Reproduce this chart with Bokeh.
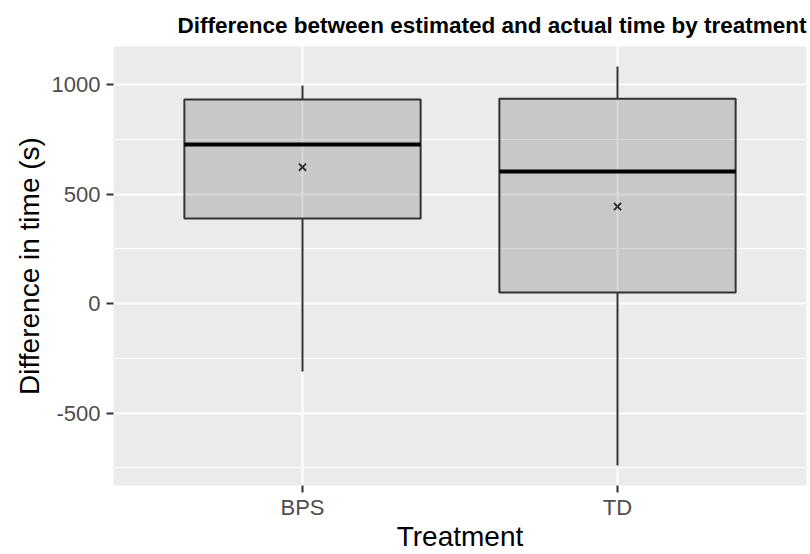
from bokeh.plotting import figure
from bokeh.models import ColumnDataSource, FactorRange, Range1d, FixedTicker
from bokeh.transform import dodge
from bokeh.embed import file_html
from bokeh.resources import INLINE

# ---- data ----
categories = ["BPS", "TD"]
whisker_low = [-310, -740]
q1 = [388, 50]
median = [726, 603]
q3 = [932, 936]
whisker_high = [996, 1083]
mean = [623, 443]

y_ticks = [-500, 0, 500, 1000]
y_tick_labels = ["-500", "0", "500", "1000"]
y_minor = [-750, -250, 250, 750]

title_text = "Difference between estimated and actual time by treatment"
x_title = "Treatment"
y_title = "Difference in time (s)"

src = ColumnDataSource(dict(cat=categories, lo=whisker_low, q1=q1, med=median,
                            q3=q3, hi=whisker_high, mean=mean))

lo_all, hi_all = min(whisker_low), max(whisker_high)
pad = 0.05 * (hi_all - lo_all)

FONT = "Liberation Sans"
BOXW = 0.75

p = figure(width=810, height=554, output_backend="svg", toolbar_location=None,
           x_range=FactorRange(factors=categories, range_padding=0.1,
                               range_padding_units="absolute"),
           y_range=Range1d(lo_all - pad, hi_all + pad),
           min_border_left=113, min_border_right=4, min_border_top=46,
           min_border_bottom=68)

p.background_fill_color = "#EBEBEB"
p.border_fill_color = "white"
p.outline_line_color = None

# grid
p.xgrid.grid_line_color = "white"
p.xgrid.grid_line_width = 2
p.ygrid.grid_line_color = "white"
p.ygrid.grid_line_width = 2
p.ygrid.minor_grid_line_color = "white"
p.ygrid.minor_grid_line_width = 1
p.yaxis.ticker = FixedTicker(ticks=y_ticks, minor_ticks=y_minor)
p.yaxis.major_label_overrides = dict(zip(y_ticks, y_tick_labels))

for ax in (p.xaxis, p.yaxis):
    ax.axis_line_color = None
    ax.minor_tick_line_color = None
    ax.major_tick_line_color = "#333333"
    ax.major_tick_line_width = 2
    ax.major_tick_out = 7
    ax.major_tick_in = 0
    ax.major_label_text_font = FONT
    ax.major_label_text_font_size = "22px"
    ax.major_label_text_color = "#4D4D4D"
    ax.axis_label_text_font = FONT
    ax.axis_label_text_font_size = "28px"
    ax.axis_label_text_font_style = "normal"
    ax.axis_label_text_color = "black"

p.xaxis.axis_label = x_title
p.yaxis.axis_label = y_title
p.xaxis.major_label_standoff = 2
p.xaxis.axis_label_standoff = -2
p.yaxis.major_label_standoff = 6
p.yaxis.axis_label_standoff = 4

p.title.text = title_text
p.title.text_font = FONT
p.title.text_font_style = "bold"
p.title.text_font_size = "22.5px"
p.title.align = "right"
p.title.text_color = "black"
p.title.standoff = 17

# whiskers
p.segment(x0="cat", y0="q3", x1="cat", y1="hi", source=src,
          line_color="#333333", line_width=2)
p.segment(x0="cat", y0="q1", x1="cat", y1="lo", source=src,
          line_color="#333333", line_width=2)
# boxes
p.vbar(x="cat", width=BOXW, bottom="q1", top="q3", source=src,
       fill_color="black", fill_alpha=0.15, line_color="#333333", line_width=2)
# medians
p.segment(x0=dodge("cat", -BOXW / 2, range=p.x_range), y0="med",
          x1=dodge("cat", BOXW / 2, range=p.x_range), y1="med", source=src,
          line_color="black", line_width=4)
# means
p.scatter(x="cat", y="mean", source=src, marker="x", size=10,
          line_color="#333333", line_width=2)

open("out.html", "w").write(file_html(p, INLINE))
